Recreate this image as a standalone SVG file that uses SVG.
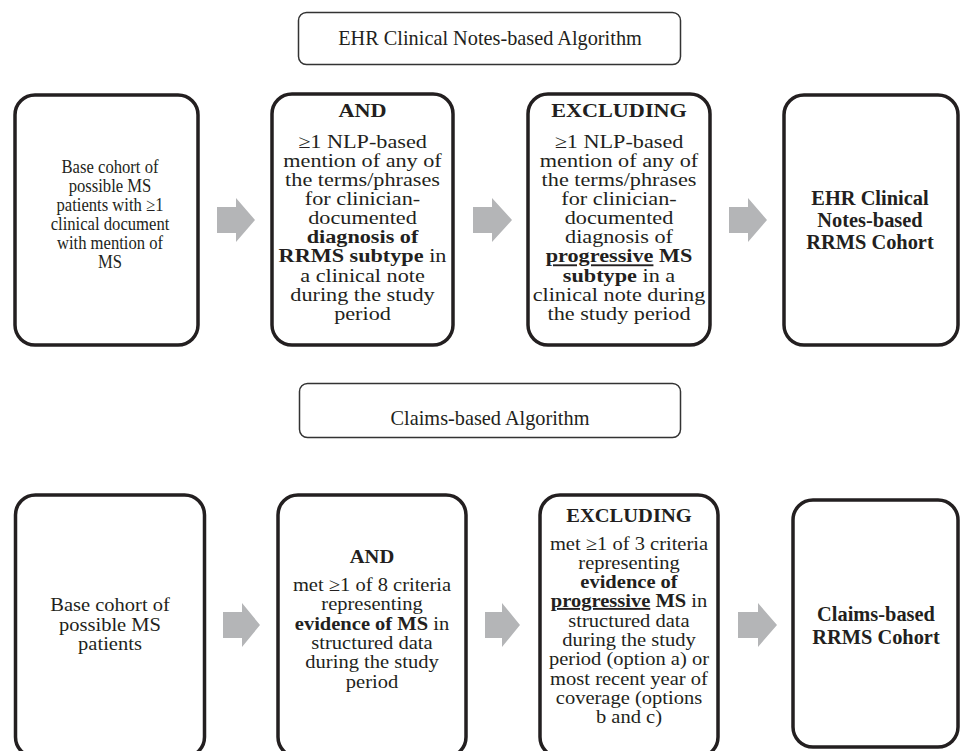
<svg xmlns="http://www.w3.org/2000/svg" width="962" height="751" viewBox="0 0 962 751">
<style>
text{font-family:"Liberation Serif","Times New Roman",serif;font-size:19px;fill:#231f20;text-anchor:middle}
.t{font-size:20.3px}
.l{font-size:20.4px}
.m{font-size:18.5px}
.b{font-weight:bold}
.u{text-decoration:underline}
.title{fill:#fff;stroke:#333;stroke-width:1.5}
.box{fill:#fff;stroke:#231f20;stroke-width:3.5}
.arrow{fill:#b4b5b7}
</style>
<rect width="962" height="751" fill="#fff"/>
<g id="title-ehr"><rect class="title" x="298.5" y="12.5" width="382" height="52" rx="8"/><text class="t" x="490" y="45">EHR Clinical Notes-based Algorithm</text></g>
<g id="ehr-base"><rect class="box" x="15" y="95" width="183" height="250" rx="20"/>
<g transform="translate(110,0) scale(0.9,1)"><text class="m" x="0"><tspan x="0" y="173">Base cohort of</tspan><tspan x="0" y="192">possible MS</tspan><tspan x="0" y="211.5">patients with ≥1</tspan><tspan x="0" y="230.5">clinical document</tspan><tspan x="0" y="249.5">with mention of</tspan><tspan x="0" y="268.5">MS</tspan></text></g></g>
<g id="ehr-and"><rect class="box" x="272" y="94" width="181" height="251" rx="20"/>
<g transform="translate(362.5,0) scale(1.17,1)"><text x="0"><tspan x="0" y="117" class="b">AND</tspan><tspan x="0" y="148">≥1 NLP-based</tspan><tspan x="0" y="167">mention of any of</tspan><tspan x="0" y="186">the terms/phrases</tspan><tspan x="0" y="205.5">for clinician-</tspan><tspan x="0" y="224.5">documented</tspan><tspan x="0" y="243.5" class="b">diagnosis of</tspan><tspan x="0" y="262.5"><tspan class="b">RRMS subtype</tspan> in</tspan><tspan x="0" y="282">a clinical note</tspan><tspan x="0" y="301">during the study</tspan><tspan x="0" y="320">period</tspan></text></g></g>
<g id="ehr-excl"><rect class="box" x="528" y="94" width="182" height="251" rx="20"/>
<g transform="translate(619,0) scale(1.17,1)"><text x="0"><tspan x="0" y="117" class="b">EXCLUDING</tspan><tspan x="0" y="148">≥1 NLP-based</tspan><tspan x="0" y="167">mention of any of</tspan><tspan x="0" y="186">the terms/phrases</tspan><tspan x="0" y="205.5">for clinician-</tspan><tspan x="0" y="224.5">documented</tspan><tspan x="0" y="243.5">diagnosis of</tspan><tspan x="0" y="262.5" class="b"><tspan class="u">progressive</tspan> MS</tspan><tspan x="0" y="282"><tspan class="b">subtype</tspan> in a</tspan><tspan x="0" y="301">clinical note during</tspan><tspan x="0" y="320">the study period</tspan></text></g></g>
<g id="ehr-cohort"><rect class="box" x="784" y="95" width="174" height="250" rx="20"/>
<text x="870" class="b l"><tspan x="870" y="205">EHR Clinical</tspan><tspan x="870" y="227">Notes-based</tspan><tspan x="870" y="249">RRMS Cohort</tspan></text></g>
<g id="title-claims"><rect class="title" x="299.5" y="383.5" width="381" height="54" rx="8"/><text class="t" x="490" y="425">Claims-based Algorithm</text></g>
<g id="cl-base"><rect class="box" x="15.5" y="495" width="189" height="262" rx="20"/>
<g transform="translate(110,0) scale(1.08,1)"><text x="0"><tspan x="0" y="611">Base cohort of</tspan><tspan x="0" y="631">possible MS</tspan><tspan x="0" y="650">patients</tspan></text></g></g>
<g id="cl-and"><rect class="box" x="278" y="495" width="188" height="262" rx="20"/>
<g transform="translate(372,0) scale(1.08,1)"><text x="0"><tspan x="0" y="563" class="b">AND</tspan><tspan x="0" y="591">met ≥1 of 8 criteria</tspan><tspan x="0" y="610">representing</tspan><tspan x="0" y="630"><tspan class="b">evidence of MS</tspan> in</tspan><tspan x="0" y="649">structured data</tspan><tspan x="0" y="668">during the study</tspan><tspan x="0" y="688">period</tspan></text></g></g>
<g id="cl-excl"><rect class="box" x="540" y="495" width="178" height="262" rx="20"/>
<g transform="translate(629,0) scale(1.08,1)"><text x="0"><tspan x="0" y="522" class="b">EXCLUDING</tspan><tspan x="0" y="550">met ≥1 of 3 criteria</tspan><tspan x="0" y="569">representing</tspan><tspan x="0" y="588" class="b">evidence of</tspan><tspan x="0" y="607"><tspan class="b u">progressive</tspan><tspan class="b"> MS</tspan> in</tspan><tspan x="0" y="627">structured data</tspan><tspan x="0" y="646">during the study</tspan><tspan x="0" y="665">period (option a) or</tspan><tspan x="0" y="685">most recent year of</tspan><tspan x="0" y="704">coverage (options</tspan><tspan x="0" y="723">b and c)</tspan></text></g></g>
<g id="cl-cohort"><rect class="box" x="793" y="500" width="165" height="247" rx="20"/>
<text x="876" class="b l"><tspan x="876" y="621">Claims-based</tspan><tspan x="876" y="644">RRMS Cohort</tspan></text></g>
<g id="connectors">
<polygon class="arrow" points="217,207 236,207 236,198 255,220 236,242 236,233 217,233"/>
<polygon class="arrow" points="473,207 492,207 492,198 512,220 492,242 492,233 473,233"/>
<polygon class="arrow" points="729,207 748,207 748,198 767,220 748,242 748,233 729,233"/>
<polygon class="arrow" points="223,612 242,612 242,603 260,625 242,647 242,638 223,638"/>
<polygon class="arrow" points="485,612 502,612 502,603 520,625 502,647 502,638 485,638"/>
<polygon class="arrow" points="738,612 758,612 758,603 777,625 758,647 758,638 738,638"/>
</g>
</svg>
